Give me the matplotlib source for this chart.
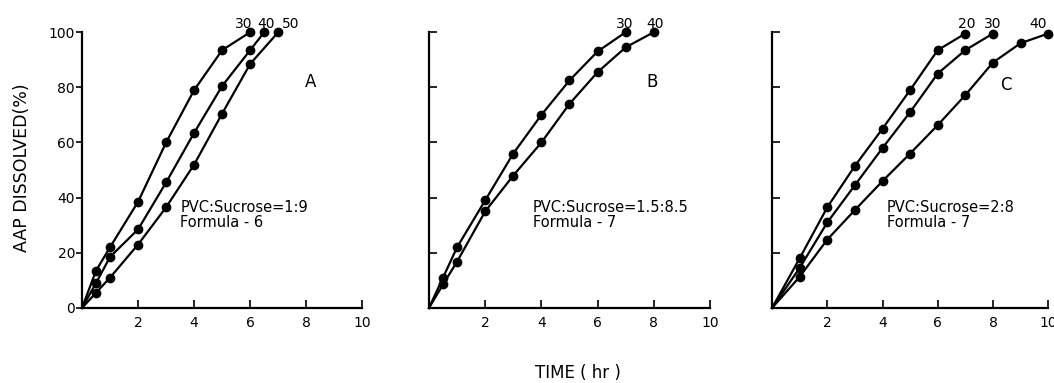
import matplotlib.pyplot as plt

plt.rcParams['font.family'] = ['DejaVu Sans']

# panel A  (PVC:Sucrose = 1:9, Formula-6)
tA30 = [0, 0.5, 1, 2, 3, 4, 5, 6]
yA30 = [0, 13.5, 22, 38.5, 60, 79, 93.5, 100]
tA40 = [0, 0.5, 1, 2, 3, 4, 5, 6, 6.5]
yA40 = [0, 9, 18.5, 28.5, 45.5, 63.5, 80.5, 93.5, 100]
tA50 = [0, 0.5, 1, 2, 3, 4, 5, 6, 7]
yA50 = [0, 5.5, 11, 23, 36.5, 52, 70.5, 88.5, 100]

# panel B  (PVC:Sucrose = 1.5:8.5, Formula-7)
tB30 = [0, 0.5, 1, 2, 3, 4, 5, 6, 7]
yB30 = [0, 11, 22, 39, 56, 70, 82.5, 93, 100]
tB40 = [0, 0.5, 1, 2, 3, 4, 5, 6, 7, 8]
yB40 = [0, 8.5, 16.8, 35, 48, 60, 74, 85.5, 94.5, 100]

# panel C  (PVC:Sucrose = 2:8, Formula-7)
tC20 = [0, 1, 2, 3, 4, 5, 6, 7]
yC20 = [0, 18, 36.5, 51.5, 65, 79, 93.5, 99.5]
tC30 = [0, 1, 2, 3, 4, 5, 6, 7, 8]
yC30 = [0, 14.5, 31, 44.5, 58, 71, 85, 93.5, 99.5]
tC40 = [0, 1, 2, 3, 4, 5, 6, 7, 8, 9, 10]
yC40 = [0, 11.3, 24.8, 35.5, 46, 56, 66.3, 77.2, 89, 96, 99.5]

# curve labels (the number above each curve end) and where they sit on the time axis
labels_A = ['30', '40', '50']
labels_B = ['30', '40']
labels_C = ['20', '30', '40']
label_x_A = [5.75, 6.55, 7.45]
label_x_B = [6.95, 8.05]
label_x_C = [7.05, 8.0, 9.65]

panels = [
    ('A', [(tA30, yA30), (tA40, yA40), (tA50, yA50)], labels_A, label_x_A,
     'PVC:Sucrose=1:9', 'Formula - 6', 3.5, (8.15, 82)),
    ('B', [(tB30, yB30), (tB40, yB40)], labels_B, label_x_B,
     'PVC:Sucrose=1.5:8.5', 'Formula - 7', 3.7, (7.95, 82)),
    ('C', [(tC20, yC20), (tC30, yC30), (tC40, yC40)], labels_C, label_x_C,
     'PVC:Sucrose=2:8', 'Formula - 7', 4.15, (8.45, 81)),
]
lefts = [0.0778, 0.407, 0.7325]
widths = [0.266, 0.2666, 0.262]

fig = plt.figure(figsize=(10.54, 3.83), dpi=100)

for i, (name, curves, labs, labx, txt1, txt2, tx, (lx, ly)) in enumerate(panels):
    ax = fig.add_axes([lefts[i], 0.196, widths[i], 0.72])
    for (t, y), lab, xl in zip(curves, labs, labx):
        ax.plot(t, y, color='black', lw=1.6, clip_on=False)
        ax.plot(t[1:], y[1:], 'o', color='black', ms=6, clip_on=False)
        ax.text(xl, 103, lab, ha='center', va='center', fontsize=10)
    ax.text(lx, ly, name, fontsize=12, ha='center', va='center')
    ax.text(tx, 36.5, txt1, fontsize=10.5, va='center')
    ax.text(tx, 31, txt2, fontsize=10.5, va='center')
    ax.set_xlim(0, 10)
    ax.set_ylim(0, 100)
    ax.set_xticks([2, 4, 6, 8, 10])
    ax.set_yticks([0, 20, 40, 60, 80, 100])
    for s in ['top', 'right']:
        ax.spines[s].set_visible(False)
    for s in ['left', 'bottom']:
        ax.spines[s].set_linewidth(1.6)
    ax.tick_params(axis='x', direction='in', length=6, width=1.2, pad=6, labelsize=10)
    if i == 0:
        ax.tick_params(axis='y', direction='out', length=4, width=1.2, pad=1, labelsize=10)
    else:
        ax.tick_params(axis='y', direction='in', length=6, width=1.2, labelleft=False)

fig.text(0.021, 0.561, 'AAP DISSOLVED(%)', rotation=90, ha='center', va='center', fontsize=12.5)
fig.text(0.548, 0.026, 'TIME ( hr )', ha='center', va='center', fontsize=12)

fig.savefig('out.png', dpi=100)
